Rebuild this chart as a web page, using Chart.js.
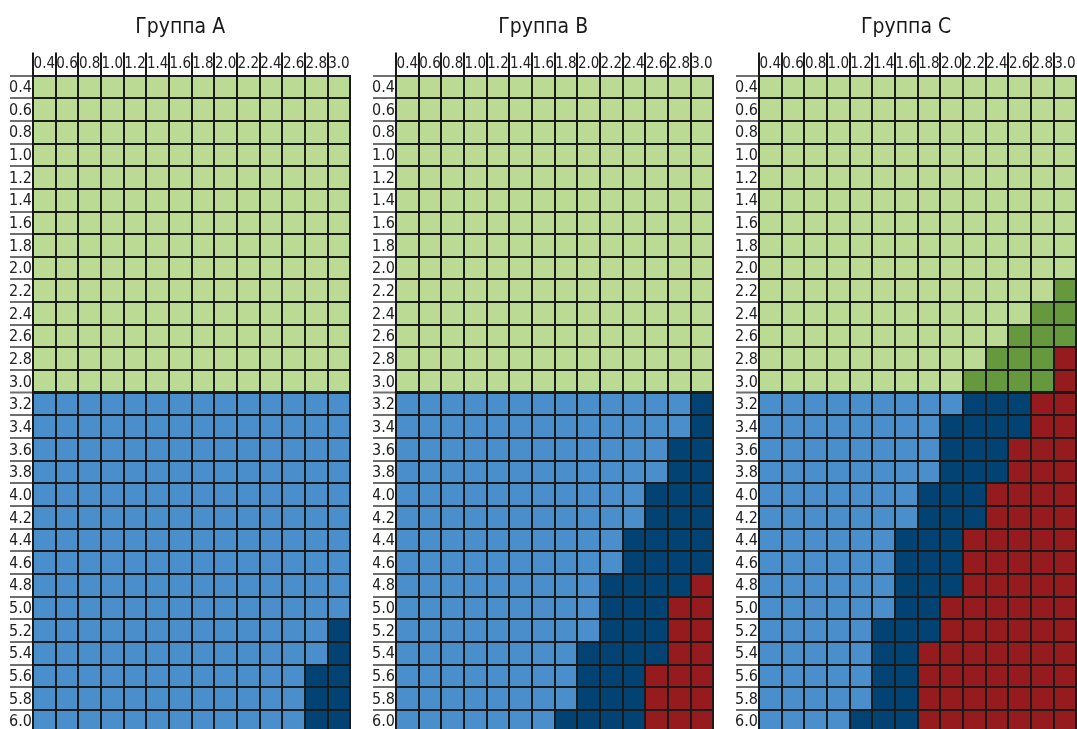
<!DOCTYPE html>
<html>
<head>
<meta charset="utf-8">
<title>Группы</title>
<script src="https://cdn.jsdelivr.net/npm/chart.js@4.4.1/dist/chart.umd.min.js"></script>
<style>
    html, body { margin: 0; padding: 0; background: #ffffff; overflow: hidden; }
    body { width: 1077px; height: 729px; position: relative; }
    canvas { position: absolute; top: 0; }
</style>
</head>
<body>
<canvas id="groupChartA" width="346" height="740" style="left:8px"></canvas>
<canvas id="groupChartB" width="346" height="740" style="left:371px"></canvas>
<canvas id="groupChartC" width="346" height="740" style="left:734px"></canvas>
<script>

var colLabels = ['0.4', '0.6', '0.8', '1.0', '1.2', '1.4', '1.6', '1.8', '2.0', '2.2', '2.4', '2.6', '2.8', '3.0'];
var rowValues = [0.4, 0.6, 0.8, 1.0, 1.2, 1.4, 1.6, 1.8, 2.0, 2.2, 2.4, 2.6, 2.8, 3.0,
    3.2, 3.4, 3.6, 3.8, 4.0, 4.2, 4.4, 4.6, 4.8, 5.0, 5.2, 5.4, 5.6, 5.8, 6.0];
var rowLabels = ['0.4', '0.6', '0.8', '1.0', '1.2', '1.4', '1.6', '1.8', '2.0', '2.2', '2.4', '2.6', '2.8', '3.0',
    '3.2', '3.4', '3.6', '3.8', '4.0', '4.2', '4.4', '4.6', '4.8', '5.0', '5.2', '5.4', '5.6', '5.8', '6.0'];
var groupTitles = ['Группа A', 'Группа B', 'Группа C'];

// rows up to this value are the green zone, below it the blue zone
var zoneLimit = 3.0;

// per row: first column index of the dark shade / of the red zone (14 = none)
var darkFromA = [14, 14, 14, 14, 14, 14, 14, 14, 14, 14, 14, 14, 14, 14,
    14, 14, 14, 14, 14, 14, 14, 14, 14, 14, 13, 13, 12, 12, 12];
var redFromA = [14, 14, 14, 14, 14, 14, 14, 14, 14, 14, 14, 14, 14, 14,
    14, 14, 14, 14, 14, 14, 14, 14, 14, 14, 14, 14, 14, 14, 14];

var darkFromB = [14, 14, 14, 14, 14, 14, 14, 14, 14, 14, 14, 14, 14, 14,
    13, 13, 12, 12, 11, 11, 10, 10, 9, 9, 9, 8, 8, 8, 7];
var redFromB = [14, 14, 14, 14, 14, 14, 14, 14, 14, 14, 14, 14, 14, 14,
    14, 14, 14, 14, 14, 14, 14, 14, 13, 12, 12, 12, 11, 11, 11];

var darkFromC = [14, 14, 14, 14, 14, 14, 14, 14, 14, 13, 12, 11, 10, 9,
    9, 8, 8, 8, 7, 7, 6, 6, 6, 6, 5, 5, 5, 5, 4];
var redFromC = [14, 14, 14, 14, 14, 14, 14, 14, 14, 14, 14, 14, 13, 13,
    12, 12, 11, 11, 10, 10, 9, 9, 9, 8, 8, 7, 7, 7, 7];

var lightGreen = '#bbdb95';
var darkGreen = '#66993e';
var lightBlue = '#4a8ecc';
var darkBlue = '#034373';
var darkRed = '#951b1f';

var lineColor = '#1a1a1a';
var tickGray = '#6e6e6e';
var fontFamily = "'DejaVu Sans Condensed', 'Liberation Sans Narrow', 'Arial Narrow', sans-serif";

function cellColor(rowIndex, colIndex, darkFrom, redFrom) {
    var upper = rowValues[rowIndex] <= zoneLimit;
    if (colIndex >= redFrom[rowIndex]) {
        return darkRed;
    }
    if (colIndex >= darkFrom[rowIndex]) {
        return upper ? darkGreen : darkBlue;
    }
    return upper ? lightGreen : lightBlue;
}

function buildDatasets(darkFrom, redFrom) {
    // one dataset per row, every cell is a floating bar one step high
    return rowValues.map(function (r, i) {
        return {
            label: rowLabels[i],
            xAxisID: 'x',
            yAxisID: 'y',
            data: colLabels.map(function () { return [r - 0.1, r + 0.1]; }),
            backgroundColor: colLabels.map(function (c, j) { return cellColor(i, j, darkFrom, redFrom); }),
            borderWidth: 0,
            barPercentage: 1,
            categoryPercentage: 1,
            grouped: false
        };
    });
}

function drawGroupChart(canvasId, title, darkFrom, redFrom) {
    return new Chart(document.getElementById(canvasId).getContext('2d'), {
        type: 'bar',
        data: {
            labels: colLabels,
            datasets: buildDatasets(darkFrom, redFrom)
        },
        options: {
            responsive: false,
            animation: false,
            devicePixelRatio: 1,
            layout: {
                padding: { left: 2, right: 3.7, top: 0, bottom: 7.4 }
            },
            scales: {
                x: {
                    type: 'category',
                    position: 'top',
                    offset: true,
                    z: 1,
                    grid: {
                        z: 1,
                        offset: true,
                        color: lineColor,
                        lineWidth: 2,
                        tickLength: 23,
                        tickWidth: 2,
                        // no tick mark above the right edge
                        tickColor: function (ctx) { return ctx.index === undefined ? 'rgba(0,0,0,0)' : lineColor; }
                    },
                    border: { z: 1, color: lineColor, width: 2 },
                    ticks: {
                        padding: -21,
                        autoSkip: false,
                        maxRotation: 0,
                        minRotation: 0,
                        color: '#222222',
                        font: { family: fontFamily, size: 15 }
                    },
                    afterFit: function (scale) { scale.height = 23; }
                },
                y: {
                    type: 'linear',
                    display: false,
                    reverse: true,
                    min: 0.3,
                    max: 6.1
                },
                rows: {
                    type: 'category',
                    axis: 'y',
                    position: 'left',
                    labels: rowLabels,
                    offset: true,
                    z: 1,
                    grid: {
                        z: 1,
                        offset: true,
                        color: lineColor,
                        // heavier line between the green and blue zones
                        lineWidth: function (ctx) { return ctx.index === 14 ? 3 : 2; },
                        tickLength: 23,
                        tickWidth: 2,
                        tickColor: tickGray
                    },
                    border: { z: 1, color: lineColor, width: 2 },
                    ticks: {
                        padding: -22,
                        labelOffset: 1,
                        autoSkip: false,
                        color: '#222222',
                        font: { family: fontFamily, size: 16 }
                    },
                    afterFit: function (scale) { scale.width = 23; }
                }
            },
            plugins: {
                legend: { display: false },
                tooltip: { enabled: false },
                title: {
                    display: true,
                    text: title,
                    color: '#1a1a1a',
                    font: { family: fontFamily, size: 21, weight: 'normal' },
                    padding: { top: 15, bottom: 12.4 }
                }
            }
        }
    });
}

// ================= Group A ======================
var groupChartA = drawGroupChart('groupChartA', groupTitles[0], darkFromA, redFromA);
// ================= Group B ======================
var groupChartB = drawGroupChart('groupChartB', groupTitles[1], darkFromB, redFromB);
// ================= Group C ======================
var groupChartC = drawGroupChart('groupChartC', groupTitles[2], darkFromC, redFromC);

</script>
</body>
</html>
